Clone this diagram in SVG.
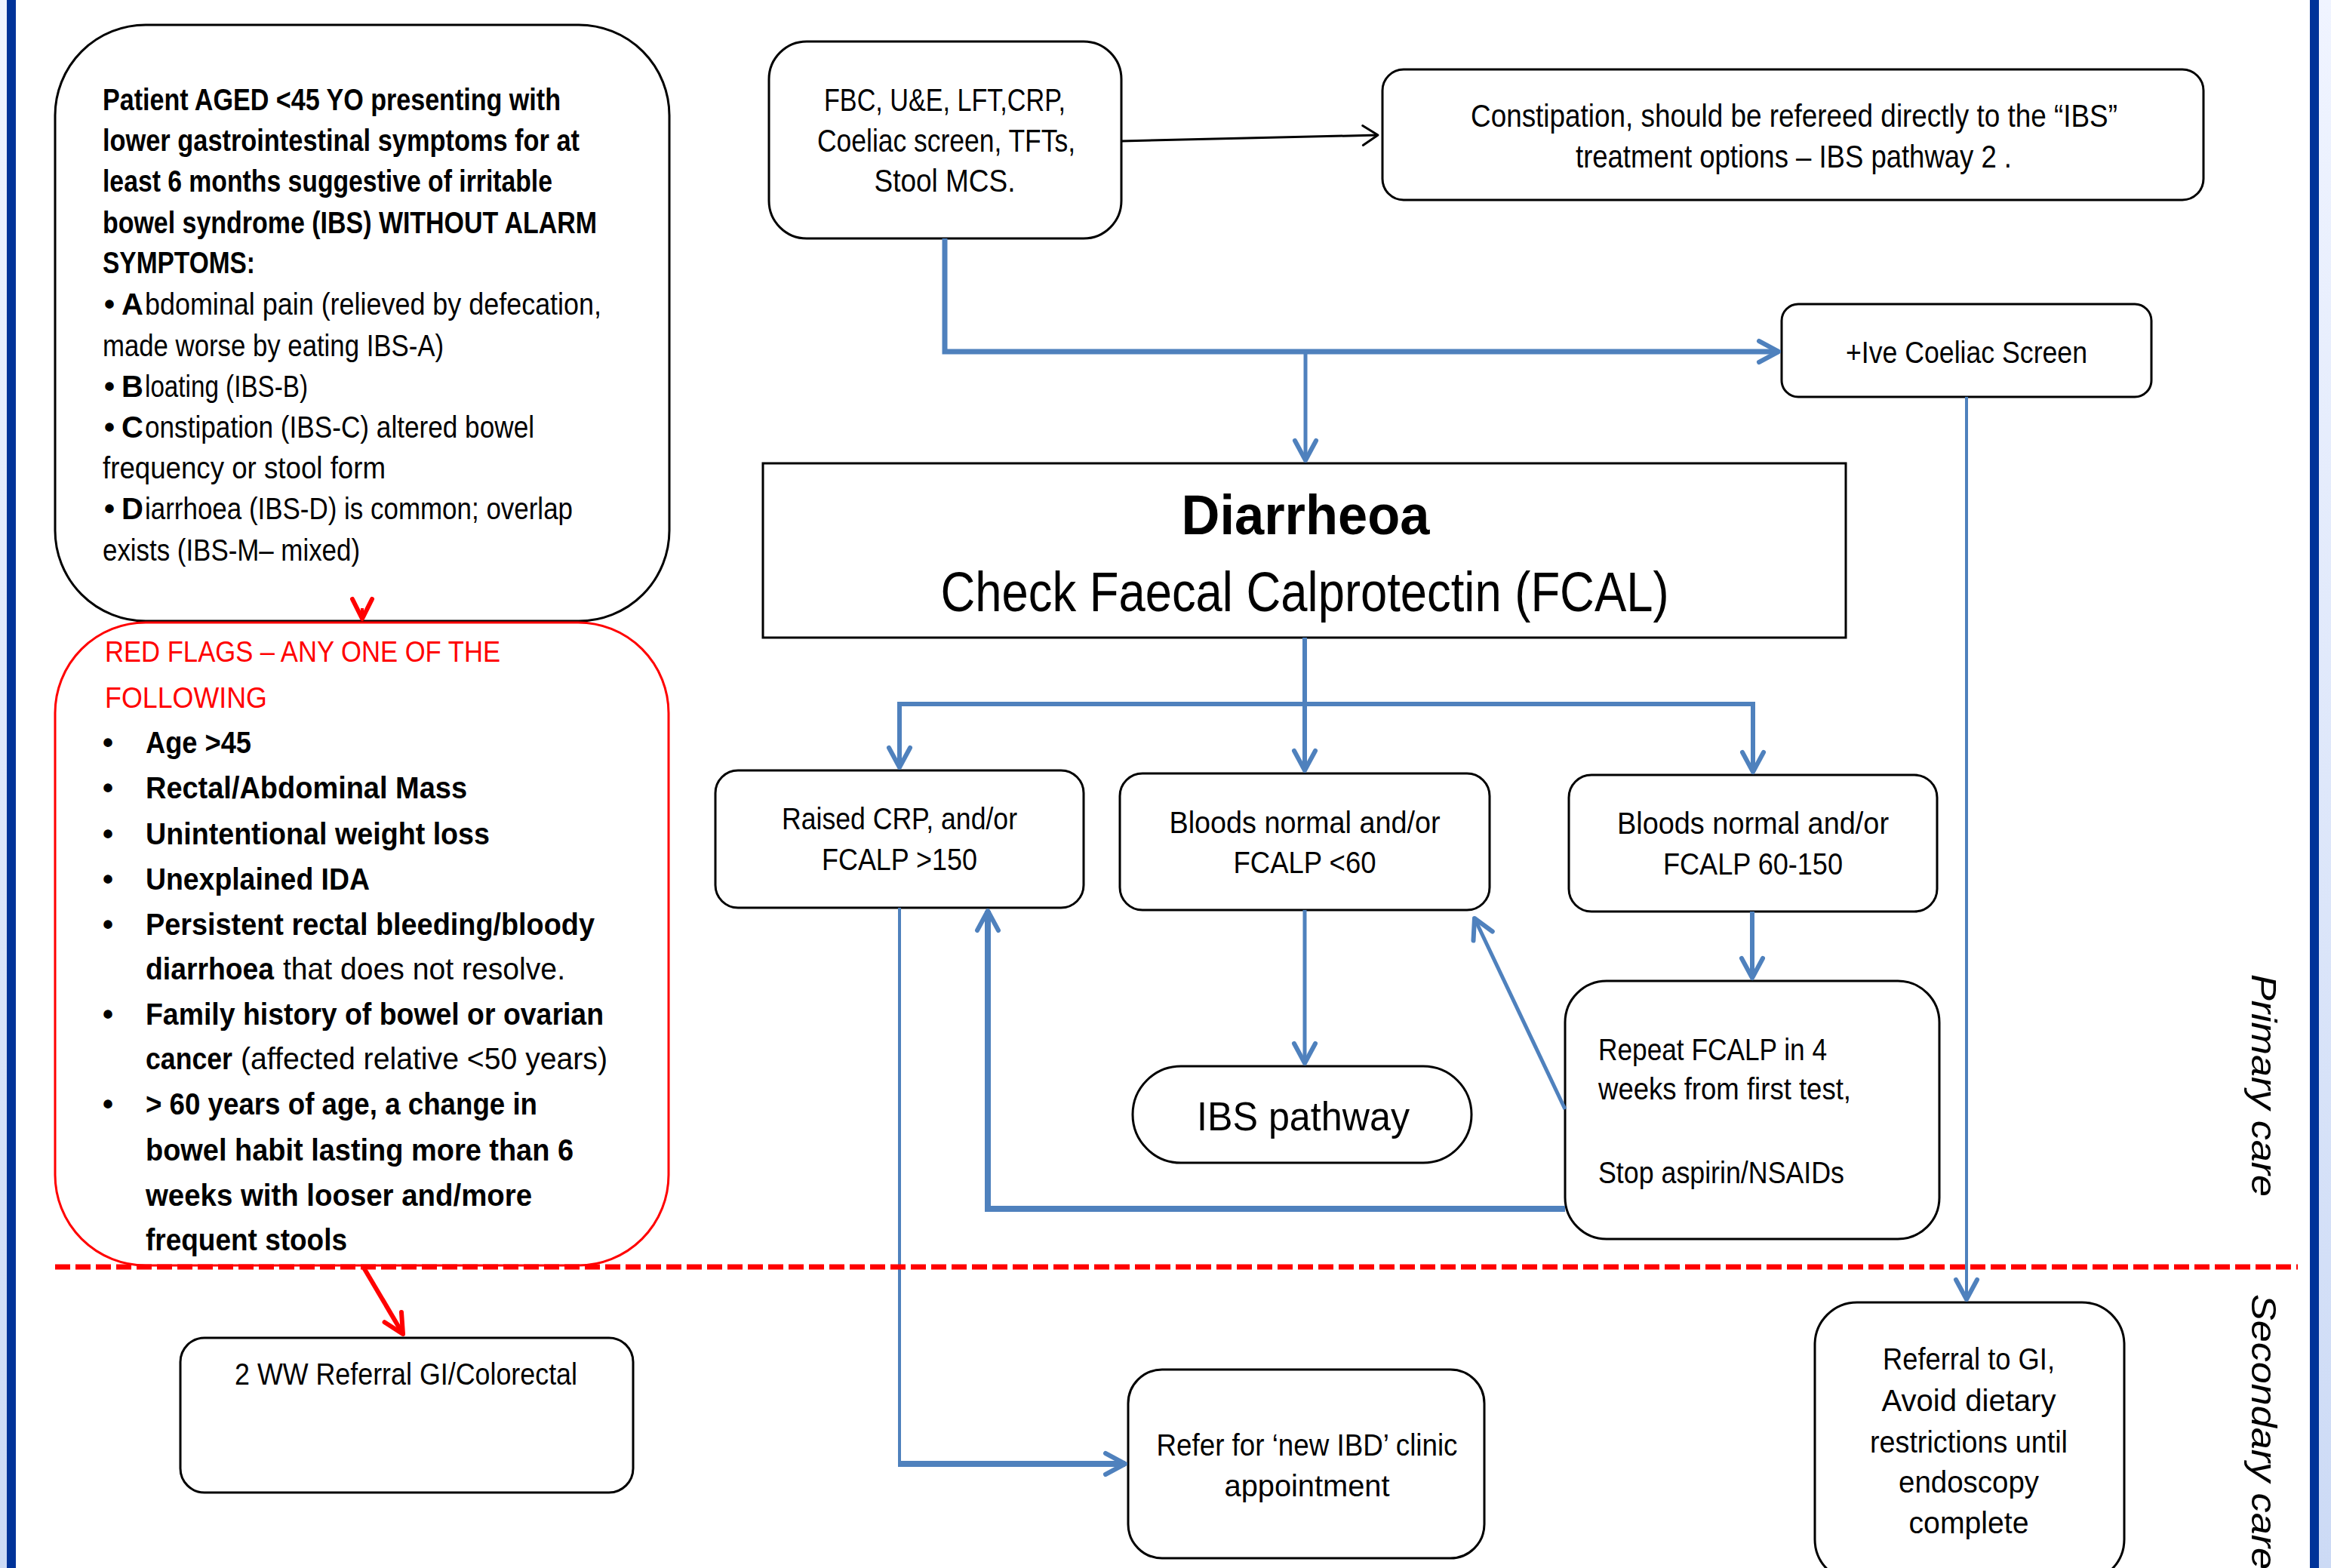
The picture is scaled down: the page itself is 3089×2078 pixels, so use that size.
<svg xmlns="http://www.w3.org/2000/svg" width="3089" height="2078" viewBox="0 0 3089 2078">
<style>
.t{font-family:"Liberation Sans",Arial,sans-serif;font-size:40px;fill:#000}
.b{font-weight:bold}
.red{fill:#FF0000}
.s38{font-size:38px}
.s42{font-size:42px}
.s54{font-size:54px}
.s74{font-size:74px}
.node{fill:#fff;stroke:#000;stroke-width:3}
.bl{fill:none;stroke:#4F81BD;stroke-linejoin:miter}
.lbl{font-family:"Liberation Sans",Arial,sans-serif;font-style:italic;font-size:46px;fill:#000}
</style>
<defs>
<linearGradient id="edge" x1="0" y1="0" x2="0" y2="1">
<stop offset="0" stop-color="#F0F4FF"/>
<stop offset="1" stop-color="#CCDAF5"/>
</linearGradient>
<marker id="ab" markerUnits="userSpaceOnUse" viewBox="-34 -20 40 40" refX="0" refY="0" markerWidth="40" markerHeight="40" orient="auto">
<path d="M-26,-14 L0,0 L-26,14" fill="none" stroke="#4F81BD" stroke-width="6" stroke-linecap="round" stroke-linejoin="round"/>
</marker>
<marker id="ak" markerUnits="userSpaceOnUse" viewBox="-30 -20 36 40" refX="0" refY="0" markerWidth="36" markerHeight="40" orient="auto">
<path d="M-20,-13 L0,0 L-20,13" fill="none" stroke="#000" stroke-width="3" stroke-linecap="round" stroke-linejoin="round"/>
</marker>
<marker id="ar" markerUnits="userSpaceOnUse" viewBox="-34 -20 40 40" refX="0" refY="0" markerWidth="40" markerHeight="40" orient="auto">
<path d="M-26,-13 L0,0 L-26,13" fill="none" stroke="#FF0000" stroke-width="6" stroke-linecap="round" stroke-linejoin="round"/>
</marker>
</defs>
<rect x="0" y="0" width="3089" height="2078" fill="#fff"/>
<rect x="0" y="0" width="9" height="2078" fill="url(#edge)"/>
<rect x="9" y="0" width="12" height="2078" fill="#003399"/>
<rect x="3061" y="0" width="12" height="2078" fill="#003399"/>
<rect x="3073" y="0" width="16" height="2078" fill="url(#edge)"/>

<g id="intro">
<rect x="73" y="33" width="814" height="790" rx="120" class="node"/>
<text class="t b" x="136" y="146" textLength="607" lengthAdjust="spacingAndGlyphs">Patient AGED &lt;45 YO presenting with</text>
<text class="t b" x="136" y="200" textLength="632" lengthAdjust="spacingAndGlyphs">lower gastrointestinal  symptoms for at</text>
<text class="t b" x="136" y="254" textLength="596" lengthAdjust="spacingAndGlyphs">least 6 months suggestive of irritable</text>
<text class="t b" x="136" y="309" textLength="655" lengthAdjust="spacingAndGlyphs">bowel syndrome (IBS) WITHOUT ALARM</text>
<text class="t b" x="136" y="362" textLength="202" lengthAdjust="spacingAndGlyphs">SYMPTOMS:</text>
<g class="t b">
<text x="138" y="417">•</text>
<text x="161" y="417">A</text>
<text x="138" y="526">•</text>
<text x="161" y="526">B</text>
<text x="138" y="580">•</text>
<text x="161" y="580">C</text>
<text x="138" y="688">•</text>
<text x="161" y="688">D</text>
</g>
<text class="t" x="192" y="417" textLength="605" lengthAdjust="spacingAndGlyphs">bdominal pain (relieved by defecation,</text>
<text class="t" x="136" y="472" textLength="452" lengthAdjust="spacingAndGlyphs">made worse by eating IBS-A)</text>
<text class="t" x="192" y="526" textLength="216" lengthAdjust="spacingAndGlyphs">loating (IBS-B)</text>
<text class="t" x="192" y="580" textLength="516" lengthAdjust="spacingAndGlyphs">onstipation (IBS-C) altered bowel</text>
<text class="t" x="136" y="634" textLength="375" lengthAdjust="spacingAndGlyphs">frequency or stool form</text>
<text class="t" x="192" y="688" textLength="567" lengthAdjust="spacingAndGlyphs">iarrhoea (IBS-D) is common; overlap</text>
<text class="t" x="136" y="743" textLength="341" lengthAdjust="spacingAndGlyphs">exists (IBS-M– mixed)</text>
</g>

<g id="red-flags">
<rect x="73" y="825" width="813" height="852" rx="120" fill="#fff" stroke="#FF0000" stroke-width="3"/>
<text class="t red s38" x="139" y="877" textLength="524" lengthAdjust="spacingAndGlyphs">RED FLAGS – ANY ONE OF THE</text>
<text class="t red s38" x="139" y="938" textLength="215" lengthAdjust="spacingAndGlyphs">FOLLOWING</text>
<g class="t b">
<text x="136" y="998">•</text>
<text x="136" y="1058">•</text>
<text x="136" y="1119">•</text>
<text x="136" y="1179">•</text>
<text x="136" y="1239">•</text>
<text x="136" y="1358">•</text>
<text x="136" y="1477">•</text>
</g>
<text class="t b" x="193" y="998" textLength="140" lengthAdjust="spacingAndGlyphs">Age &gt;45</text>
<text class="t b" x="193" y="1058" textLength="426" lengthAdjust="spacingAndGlyphs">Rectal/Abdominal Mass</text>
<text class="t b" x="193" y="1119" textLength="456" lengthAdjust="spacingAndGlyphs">Unintentional weight loss</text>
<text class="t b" x="193" y="1179" textLength="297" lengthAdjust="spacingAndGlyphs">Unexplained IDA</text>
<text class="t b" x="193" y="1239" textLength="595" lengthAdjust="spacingAndGlyphs">Persistent rectal bleeding/bloody</text>
<text class="t b" x="193" y="1298" textLength="170" lengthAdjust="spacingAndGlyphs">diarrhoea</text>
<text class="t" x="375" y="1298" textLength="374" lengthAdjust="spacingAndGlyphs">that does not resolve.</text>
<text class="t b" x="193" y="1358" textLength="607" lengthAdjust="spacingAndGlyphs">Family history of bowel or ovarian</text>
<text class="t b" x="193" y="1417" textLength="115" lengthAdjust="spacingAndGlyphs">cancer</text>
<text class="t" x="319" y="1417" textLength="486" lengthAdjust="spacingAndGlyphs">(affected relative &lt;50 years)</text>
<text class="t b" x="193" y="1477" textLength="519" lengthAdjust="spacingAndGlyphs">&gt; 60 years of age, a change in</text>
<text class="t b" x="193" y="1538" textLength="567" lengthAdjust="spacingAndGlyphs">bowel habit lasting more than 6</text>
<text class="t b" x="193" y="1598" textLength="512" lengthAdjust="spacingAndGlyphs">weeks with looser and/more</text>
<text class="t b" x="193" y="1657" textLength="267" lengthAdjust="spacingAndGlyphs">frequent stools</text>
</g>

<g id="two-ww">
<rect x="239" y="1773" width="600" height="205" rx="32" class="node"/>
<text class="t" x="311" y="1835" textLength="454" lengthAdjust="spacingAndGlyphs">2 WW Referral GI/Colorectal</text>
</g>

<g id="bloods">
<rect x="1019" y="55" width="467" height="261" rx="50" class="node"/>
<text class="t s42" x="1252" y="147" text-anchor="middle" textLength="320" lengthAdjust="spacingAndGlyphs">FBC, U&amp;E, LFT,CRP,</text>
<text class="t s42" x="1254" y="201" text-anchor="middle" textLength="342" lengthAdjust="spacingAndGlyphs">Coeliac screen, TFTs,</text>
<text class="t s42" x="1252" y="254" text-anchor="middle" textLength="187" lengthAdjust="spacingAndGlyphs">Stool MCS.</text>
</g>

<g id="constipation">
<rect x="1832" y="92" width="1088" height="173" rx="28" class="node"/>
<text class="t s42" x="1949" y="168" textLength="857" lengthAdjust="spacingAndGlyphs">Constipation, should be refereed directly to the “IBS”</text>
<text class="t s42" x="2088" y="222" textLength="578" lengthAdjust="spacingAndGlyphs">treatment options – IBS pathway 2 .</text>
</g>

<g id="coeliac">
<rect x="2361" y="403" width="490" height="123" rx="22" class="node"/>
<text class="t" x="2606" y="481" text-anchor="middle" textLength="320" lengthAdjust="spacingAndGlyphs">+Ive Coeliac Screen</text>
</g>

<g id="diarrhoea">
<rect x="1011" y="614" width="1435" height="231" fill="#fff" stroke="#000" stroke-width="3"/>
<text class="t b s74" x="1730" y="708" text-anchor="middle" textLength="329" lengthAdjust="spacingAndGlyphs">Diarrheoa</text>
<text class="t s74" x="1729" y="810" text-anchor="middle" textLength="965" lengthAdjust="spacingAndGlyphs">Check Faecal Calprotectin (FCAL)</text>
</g>

<g id="raised">
<rect x="948" y="1021" width="488" height="182" rx="30" class="node"/>
<text class="t" x="1192" y="1099" text-anchor="middle" textLength="312" lengthAdjust="spacingAndGlyphs">Raised CRP, and/or</text>
<text class="t" x="1192" y="1153" text-anchor="middle" textLength="206" lengthAdjust="spacingAndGlyphs">FCALP &gt;150</text>
</g>

<g id="normal-low">
<rect x="1484" y="1025" width="490" height="181" rx="30" class="node"/>
<text class="t" x="1729" y="1104" text-anchor="middle" textLength="359" lengthAdjust="spacingAndGlyphs">Bloods normal and/or</text>
<text class="t" x="1729" y="1157" text-anchor="middle" textLength="189" lengthAdjust="spacingAndGlyphs">FCALP &lt;60</text>
</g>

<g id="normal-mid">
<rect x="2079" y="1027" width="488" height="181" rx="30" class="node"/>
<text class="t" x="2323" y="1105" text-anchor="middle" textLength="360" lengthAdjust="spacingAndGlyphs">Bloods normal and/or</text>
<text class="t" x="2323" y="1159" text-anchor="middle" textLength="238" lengthAdjust="spacingAndGlyphs">FCALP 60-150</text>
</g>

<g id="repeat">
<rect x="2074" y="1300" width="496" height="342" rx="55" class="node"/>
<text class="t" x="2118" y="1405" textLength="303" lengthAdjust="spacingAndGlyphs">Repeat FCALP in 4</text>
<text class="t" x="2118" y="1457" textLength="335" lengthAdjust="spacingAndGlyphs">weeks from first test,</text>
<text class="t" x="2118" y="1568" textLength="326" lengthAdjust="spacingAndGlyphs">Stop aspirin/NSAIDs</text>
</g>

<g id="ibs">
<rect x="1501" y="1413" width="449" height="128" rx="64" class="node"/>
<text class="t s54" x="1727" y="1498" text-anchor="middle" textLength="282" lengthAdjust="spacingAndGlyphs">IBS pathway</text>
</g>

<g id="new-ibd">
<rect x="1495" y="1815" width="472" height="250" rx="45" class="node"/>
<text class="t" x="1732" y="1929" text-anchor="middle" textLength="399" lengthAdjust="spacingAndGlyphs">Refer for ‘new IBD’ clinic</text>
<text class="t" x="1732" y="1983" text-anchor="middle" textLength="219" lengthAdjust="spacingAndGlyphs">appointment</text>
</g>

<g id="referral-gi">
<rect x="2405" y="1726" width="410" height="370" rx="56" class="node"/>
<text class="t" x="2609" y="1815" text-anchor="middle" textLength="228" lengthAdjust="spacingAndGlyphs">Referral to GI,</text>
<text class="t" x="2609" y="1870" text-anchor="middle" textLength="231" lengthAdjust="spacingAndGlyphs">Avoid dietary</text>
<text class="t" x="2609" y="1925" text-anchor="middle" textLength="262" lengthAdjust="spacingAndGlyphs">restrictions until</text>
<text class="t" x="2609" y="1978" text-anchor="middle" textLength="186" lengthAdjust="spacingAndGlyphs">endoscopy</text>
<text class="t" x="2609" y="2032" text-anchor="middle" textLength="159" lengthAdjust="spacingAndGlyphs">complete</text>
</g>

<g id="labels">
<text class="lbl" transform="translate(2984,1291) rotate(90)" textLength="295" lengthAdjust="spacingAndGlyphs">Primary care</text>
<text class="lbl" transform="translate(2984,1715) rotate(90)" textLength="365" lengthAdjust="spacingAndGlyphs">Secondary care</text>
</g>

<g id="connectors">
<path d="M1486,187 L1826,179" fill="none" stroke="#000" stroke-width="3" marker-end="url(#ak)"/>
<path class="bl" d="M1252,316 V466 H2357" stroke-width="7" marker-end="url(#ab)"/>
<path class="bl" d="M1730,466 V610" stroke-width="5" marker-end="url(#ab)"/>
<path class="bl" d="M1729,845 V1021" stroke-width="6" marker-end="url(#ab)"/>
<path class="bl" d="M1729,933 H1192 V1017" stroke-width="6" marker-end="url(#ab)"/>
<path class="bl" d="M1729,933 H2323 V1023" stroke-width="6" marker-end="url(#ab)"/>
<path class="bl" d="M1192,1203 V1944" stroke-width="4"/>
<path class="bl" d="M1190,1940 H1491" stroke-width="8" marker-end="url(#ab)"/>
<path class="bl" d="M1729,1206 V1409" stroke-width="5" marker-end="url(#ab)"/>
<path class="bl" d="M2322,1208 V1296" stroke-width="6" marker-end="url(#ab)"/>
<path class="bl" d="M2074,1470 L1954,1217" stroke-width="5" marker-end="url(#ab)"/>
<path class="bl" d="M2074,1602 H1309 V1207" stroke-width="8" marker-end="url(#ab)"/>
<path class="bl" d="M2606,526 V1722" stroke-width="4" marker-end="url(#ab)"/>
<path d="M480,806 V820" fill="none" stroke="#FF0000" stroke-width="4" marker-end="url(#ar)"/>
<path d="M482,1680 L534,1768" fill="none" stroke="#FF0000" stroke-width="6" marker-end="url(#ar)"/>
<path d="M73,1679 H3045" fill="none" stroke="#FF0000" stroke-width="7" stroke-dasharray="20 7"/>
</g>
</svg>
